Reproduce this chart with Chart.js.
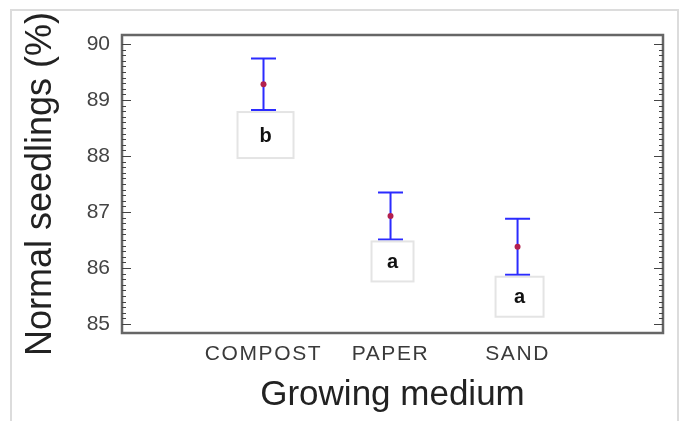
<!DOCTYPE html>
<html>
<head>
<meta charset="utf-8">
<script src="https://cdn.jsdelivr.net/npm/chart.js@4"></script>
<style>
  html, body { margin: 0; padding: 0; background: #fff; }
  #wrap { position: relative; width: 683px; height: 421px; overflow: hidden; }
  #frame { position: absolute; left: 10px; top: 9px; width: 665px; height: 430px; border: 2px solid #dcdcdc; }
  canvas { position: absolute; left: 0; top: 0; }
</style>
</head>
<body>
<div id="wrap">
  <div id="frame"></div>
  <canvas id="chart" width="683" height="421"></canvas>
</div>
<script>
// Growing medium means with their error half-widths and grouping letters
const media = ["COMPOST", "PAPER", "SAND"];
const means = [89.28, 86.93, 86.38];
const errors = [0.46, 0.42, 0.5];
const groups = ["b", "a", "a"];
const yTicks = [85, 86, 87, 88, 89, 90];

// letter box sizes (w, h) per group label
const boxSizes = [[56, 46], [42, 40], [48, 40]];

const positions = media.map((m, i) => i + 1);

// category labels are drawn a little spaced out
const spacedLabels = {
  id: "spacedLabels",
  afterLayout(chart) {
    const s = chart.scales.x;
    if (s._spaced) return;
    const orig = s.drawLabels.bind(s);
    s.drawLabels = function (area) {
      const c = this.ctx;
      c.save();
      c.letterSpacing = "1.6px";
      orig(area);
      c.restore();
    };
    s._spaced = true;
  }
};

const decorations = {
  id: "decorations",
  beforeDatasetsDraw(chart) {
    const { ctx, chartArea: a, scales: { x, y } } = chart;
    ctx.save();

    // plot frame
    ctx.strokeStyle = "#666";
    ctx.lineWidth = 2.5;
    ctx.strokeRect(a.left, a.top, a.right - a.left, a.bottom - a.top);

    // major and minor ticks, pointing inwards on both sides
    ctx.strokeStyle = "#444";
    ctx.lineWidth = 1;
    const first = yTicks[0];
    const last = yTicks[yTicks.length - 1];
    for (let k = 0; k <= (last - first) * 10; k++) {
      const v = first + k / 10;
      const py = Math.round(y.getPixelForValue(v)) + 0.5;
      const len = k % 10 === 0 ? 9 : 4;
      ctx.beginPath();
      ctx.moveTo(a.left, py);
      ctx.lineTo(a.left + len, py);
      ctx.moveTo(a.right, py);
      ctx.lineTo(a.right - len, py);
      ctx.stroke();
    }

    // error bars
    ctx.strokeStyle = "#2b2bff";
    ctx.lineWidth = 2;
    means.forEach((m, i) => {
      const px = x.getPixelForValue(positions[i]);
      const top = y.getPixelForValue(m + errors[i]);
      const bot = y.getPixelForValue(m - errors[i]);
      ctx.beginPath();
      ctx.moveTo(px, top);
      ctx.lineTo(px, bot);
      ctx.moveTo(px - 12.5, top);
      ctx.lineTo(px + 12.5, top);
      ctx.moveTo(px - 12.5, bot);
      ctx.lineTo(px + 12.5, bot);
      ctx.stroke();
    });
    ctx.restore();
  },
  afterDatasetsDraw(chart) {
    const { ctx, scales: { x, y } } = chart;
    ctx.save();
    groups.forEach((g, i) => {
      const [w, h] = boxSizes[i];
      const cx = x.getPixelForValue(positions[i]) + 2;
      const top = y.getPixelForValue(means[i] - errors[i]) + 2;
      ctx.fillStyle = "#fff";
      ctx.fillRect(cx - w / 2, top, w, h);
      ctx.strokeStyle = "#e4e4e4";
      ctx.lineWidth = 2;
      ctx.strokeRect(cx - w / 2, top, w, h);
      ctx.fillStyle = "#111";
      ctx.font = "bold 20px 'Liberation Sans', Arial, sans-serif";
      ctx.textAlign = "center";
      ctx.textBaseline = "middle";
      ctx.fillText(g, cx, top + h / 2 + 1);
    });
    ctx.restore();
  }
};

new Chart(document.getElementById("chart"), {
  type: "scatter",
  data: {
    datasets: [{
      data: means.map((m, i) => ({ x: positions[i], y: m })),
      backgroundColor: "#b3204e",
      borderWidth: 0,
      pointRadius: 3,
      pointHoverRadius: 3
    }]
  },
  options: {
    responsive: false,
    animation: false,
    layout: { padding: { top: 35, right: 20, left: 0, bottom: 0 } },
    plugins: { legend: { display: false }, tooltip: { enabled: false } },
    scales: {
      x: {
        type: "linear",
        min: -0.114,
        max: 4.145,
        afterBuildTicks: (s) => { s.ticks = positions.map(v => ({ value: v })); },
        afterFit: (s) => { s.height = 88; },
        grid: { display: false, drawTicks: false },
        border: { display: false },
        ticks: {
          padding: 9,
          color: "#3a3a3a",
          font: { family: "'Liberation Sans', Arial, sans-serif", size: 21 },
          callback: (v) => media[positions.indexOf(v)] || ""
        },
        title: {
          display: true,
          text: "Growing medium",
          color: "#222",
          padding: { top: 0, bottom: 5 },
          font: { family: "'Liberation Sans', Arial, sans-serif", size: 35 }
        }
      },
      y: {
        min: 84.84,
        max: 90.16,
        afterBuildTicks: (s) => { s.ticks = yTicks.map(v => ({ value: v })); },
        afterFit: (s) => { s.width = 122; },
        grid: { display: false, drawTicks: false },
        border: { display: false },
        ticks: {
          padding: 12,
          color: "#444",
          font: { family: "'Liberation Sans', Arial, sans-serif", size: 21 }
        },
        title: {
          display: true,
          text: "Normal seedlings (%)",
          color: "#222",
          padding: { top: 19, bottom: 0 },
          font: { family: "'Liberation Sans', Arial, sans-serif", size: 36 }
        }
      }
    }
  },
  plugins: [spacedLabels, decorations]
});
</script>
</body>
</html>
